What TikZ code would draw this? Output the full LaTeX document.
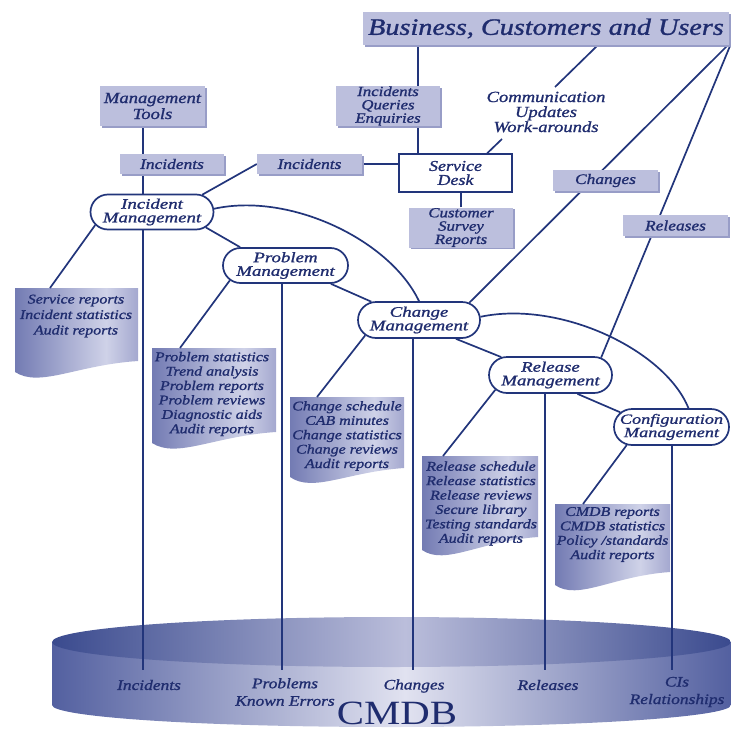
\documentclass[tikz,border=0pt]{standalone}
\usepackage{fontspec}
\newfontfamily\lblfont{Liberation Serif}[FakeStretch=1.2,FakeBold=1.2]
\newfontfamily\procfont{Liberation Serif}[FakeStretch=1.3,FakeBold=1.2]
\newfontfamily\capfont{Liberation Serif}[FakeStretch=1.2]
\usetikzlibrary{shapes.misc,shadows}

\definecolor{ink}{HTML}{22357B}
\definecolor{txt}{HTML}{1F2C6E}
\definecolor{boxfill}{HTML}{BCBFDD}
\definecolor{boxshade}{HTML}{989DC7}
\definecolor{docL}{HTML}{737BB3}
\definecolor{docM}{HTML}{CFD2E8}
\definecolor{docR}{HTML}{A4A8CF}
\definecolor{cylEdge}{HTML}{5360A0}
\definecolor{cylMid}{HTML}{E1E2F0}
\definecolor{topEdge}{HTML}{3A4A8E}
\definecolor{topMid}{HTML}{BBBEDB}

\pgfdeclarehorizontalshading{docshade}{100bp}{color(0bp)=(docL); color(25bp)=(docL); color(62bp)=(docM); color(75bp)=(docR); color(100bp)=(docR)}
\pgfdeclarehorizontalshading{cylbody}{100bp}{color(0bp)=(cylEdge); color(25bp)=(cylEdge); color(51bp)=(cylMid); color(75bp)=(cylEdge); color(100bp)=(cylEdge)}
\pgfdeclarehorizontalshading{cyltop}{100bp}{color(0bp)=(topEdge); color(25bp)=(topEdge); color(51bp)=(topMid); color(75bp)=(topEdge); color(100bp)=(topEdge)}

\pgfdeclarelayer{bg}
\pgfsetlayers{bg,main}

% report sheet with a wavy lower edge: x0, x1, top, lower-left y, lower-right y
\newcommand\docshape[5]{%
  \shade[shading=docshade] (#1,#3) -- (#2,#3) -- (#2,#5)
    .. controls ({#1+0.5*(#2-#1)},{#5+4}) and ({#1+0.2*(#2-#1)},{#4+16}) .. (#1,#4) -- cycle;}

\begin{document}
\begin{tikzpicture}[x=1pt,y=-1pt,
  link/.style={draw=ink, line width=1.7pt},
  lblbox/.style={fill=boxfill, inner sep=0pt, text=txt, align=center,
    font=\lblfont\itshape\fontsize{14.5}{15}\selectfont,
    drop shadow={shadow xshift=1.5pt, shadow yshift=-1.5pt, fill=boxshade, opacity=1}},
  proc/.style={rounded rectangle, draw=ink, line width=1.7pt, fill=white, inner sep=0pt,
    minimum height=35pt, text=txt, align=center,
    font=\procfont\itshape\fontsize{14.5}{13.6}\selectfont},
  doctext/.style={text=txt, align=center, inner sep=0pt,
    font=\lblfont\itshape\fontsize{13.3}{14.4}\selectfont},
  cyltext/.style={text=txt, align=center, inner sep=0pt,
    font=\lblfont\itshape\fontsize{14.5}{17.5}\selectfont}
]
\useasboundingbox (0,0) rectangle (731,731);

% ---------- boxes ----------
\node[lblbox, minimum width=366pt, minimum height=33pt,
      font=\lblfont\itshape\fontsize{23.5}{24}\selectfont] (bcu) at (546,28.5) {Business, Customers and Users};
\node[lblbox, minimum width=105pt, minimum height=40pt,
      font=\lblfont\itshape\fontsize{15.5}{16}\selectfont] (mt) at (152.5,106) {Management\\Tools};
\node[lblbox, minimum width=104pt, minimum height=40pt,
      font=\lblfont\itshape\fontsize{14}{13.3}\selectfont] (iqe) at (388,106) {Incidents\\Queries\\Enquiries};
\node[lblbox, minimum width=104pt, minimum height=20pt] (inc1) at (172,164) {Incidents};
\node[lblbox, minimum width=105pt, minimum height=20pt] (inc2) at (309.5,164) {Incidents};
\node[draw=ink, line width=1.7pt, fill=white, minimum width=113pt, minimum height=38pt,
      inner sep=0pt, text=txt, align=center,
      font=\lblfont\itshape\fontsize{15}{14}\selectfont] (sd) at (455.5,173) {Service\\Desk};
\node[lblbox, minimum width=104pt, minimum height=40pt,
      font=\lblfont\itshape\fontsize{14}{13.3}\selectfont] (csr) at (461,227.5) {Customer\\Survey\\Reports};
\node[lblbox, minimum width=105pt, minimum height=21pt] (chg) at (605.5,180.5) {Changes};
\node[lblbox, minimum width=105pt, minimum height=21pt] (rel) at (675.5,225.5) {Releases};
\node[text=txt, align=center, inner sep=0pt,
      font=\lblfont\itshape\fontsize{15.5}{15}\selectfont] (comm) at (546,112) {Communication\\Updates\\Work-arounds};

% ---------- processes ----------
\node[proc, minimum width=123pt] (im) at (152,212) {Incident\\Management};
\node[proc, minimum width=125pt] (pm) at (285.5,265.5) {Problem\\Management};
\node[proc, minimum width=122pt, minimum height=36pt] (cm) at (419,320) {Change\\Management};
\node[proc, minimum width=123pt, minimum height=36pt] (rm) at (550.5,375) {Release\\Management};
\node[proc, minimum width=115pt, minimum height=36pt,
      font=\procfont\itshape\fontsize{14}{13.3}\selectfont] (cfm) at (671.5,427) {Configuration\\Management};

% ---------- report texts ----------
\node[doctext, font=\lblfont\itshape\fontsize{13.3}{15.5}\selectfont] (t1) at (76,316) {Service reports\\Incident statistics\\Audit reports};
\node[doctext] (t2) at (212,394) {Problem statistics\\Trend analysis\\Problem reports\\Problem reviews\\Diagnostic aids\\Audit reports};
\node[doctext] (t3) at (347,436) {Change schedule\\CAB minutes\\Change statistics\\Change reviews\\Audit reports};
\node[doctext] (t4) at (481,503.5) {Release schedule\\Release statistics\\Release reviews\\Secure library\\Testing standards\\Audit reports};
\node[doctext] (t5) at (612.5,534.5) {CMDB reports\\CMDB statistics\\Policy /standards\\Audit reports};

% ---------- CMDB labels ----------
\node[cyltext] (lInc) at (149,685) {Incidents};
\node[cyltext] (lPrb) at (285,692) {Problems\\Known Errors};
\node[cyltext] (lChg) at (414,686) {Changes};
\node[cyltext] (lRel) at (548,685) {Releases};
\node[cyltext] (lCI) at (677,692) {CIs\\Relationships};
\node[text=txt, inner sep=0pt, font=\capfont\fontsize{34}{34}\selectfont] (cmdb) at (397,713) {CMDB};

% ---------- attachment points ----------
\coordinate (bq) at (418,45);
\coordinate (bc) at (598,45);
\coordinate (bx) at (727,46);
\coordinate (by) at (730,46);
\coordinate (ct) at (555,87);
\coordinate (cb) at (502,139);
\coordinate (cI) at (143,670);
\coordinate (cP) at (282,670);
\coordinate (cC) at (413,670);
\coordinate (cR) at (545,670);
\coordinate (cF) at (672,670);
\coordinate (d1) at (50,288);
\coordinate (d2) at (180,348);
\coordinate (d3) at (317,397);
\coordinate (d4) at (443,456);
\coordinate (d5) at (583,504);

\begin{pgfonlayer}{bg}
  % CMDB drum
  \shade[shading=cylbody] (52,642) -- (52,705) arc[start angle=180, end angle=0, x radius=339.5, y radius=22] -- (731,642) -- cycle;
  \shade[shading=cyltop] (391.5,642) ellipse[x radius=339.5, y radius=25];

  % report sheets
  \docshape{15}{138}{288}{372}{361}
  \docshape{152}{276}{348}{443}{432}
  \docshape{290}{404}{397}{477}{468}
  \docshape{422}{538}{456}{550}{537}
  \docshape{555}{670}{504}{585}{572}

  % connectors
  \draw[link] (bq) -- (bq |- sd.north);
  \draw[link] (bc) -- (ct);
  \draw[link] (cb) -- (sd.32.8);
  \draw[link] (inc2.east) -- (inc2.east -| sd.west);
  \draw[link] (inc2.west) -- (im.19.5);
  \draw[link] (csr.north) -- (csr.north |- sd.south);
  \draw[link] (bx) -- (cm.19.4);
  \draw[link] (by) -- (rm.19.8);

  \draw[link] (im.-16.8) -- (pm.158);
  \draw[link] (pm.-22.9) -- (cm.159);
  \draw[link] (cm.-27.9) -- (rm.160);
  \draw[link] (rm.-35.8) -- (cfm.164.6);
  \draw[link] (im.3.6) .. controls (290,192) and (390,240) .. (cm.north);
  \draw[link] (cm.3.6) .. controls (560,300) and (665,350) .. (cfm.48.4);

  \draw[link] (im.193.3) -- (d1);
  \draw[link] (pm.195) -- (d2);
  \draw[link] (cm.196.9) -- (d3);
  \draw[link] (rm.195.8) -- (d4);
  \draw[link] (cfm.202) -- (d5);

  \draw[link] (mt.south -| cI) -- (cI);
  \draw[link] (pm.south -| cP) -- (cP);
  \draw[link] (cm.south -| cC) -- (cC);
  \draw[link] (rm.south -| cR) -- (cR);
  \draw[link] (cfm.south -| cF) -- (cF);
\end{pgfonlayer}
\end{tikzpicture}
\end{document}
